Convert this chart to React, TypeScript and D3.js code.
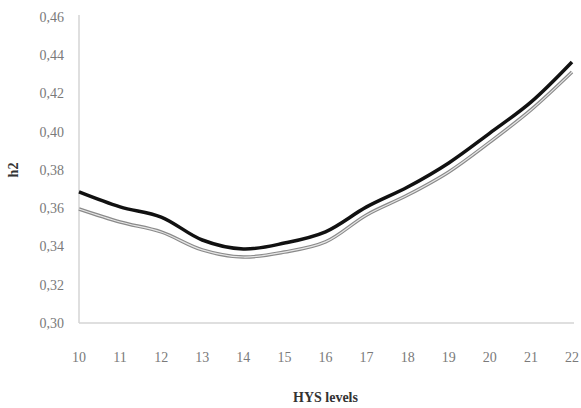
import React, { useEffect, useRef } from "react";
import * as d3 from "d3";

const levels = [10, 11, 12, 13, 14, 15, 16, 17, 18, 19, 20, 21, 22];
const upperSeries = [0.3685, 0.3607, 0.3554, 0.3434, 0.3387, 0.3418, 0.3477, 0.3607, 0.3711, 0.3837, 0.3993, 0.4155, 0.4365];
const lowerSeries = [0.3596, 0.3528, 0.3476, 0.3382, 0.3345, 0.3371, 0.3424, 0.3565, 0.3669, 0.379, 0.3946, 0.4114, 0.4312];
const yTicks = [0.3, 0.32, 0.34, 0.36, 0.38, 0.4, 0.42, 0.44, 0.46];

const W = 581;
const H = 408;

export default function App() {
  const ref = useRef<SVGSVGElement>(null);

  useEffect(() => {
    const svg = d3.select(ref.current);
    svg.selectAll("*").remove();

    const left = 79, right = 572, top = 17, bottom = 323;

    const x = d3.scaleLinear().domain([10, 22]).range([left, right]);
    const y = d3.scaleLinear().domain([0.3, 0.46]).range([bottom, top]);

    // axes lines
    svg.append("line")
      .attr("x1", left).attr("x2", left)
      .attr("y1", top - 2).attr("y2", bottom)
      .attr("stroke", "#d4d4d4").attr("stroke-width", 1.5);
    svg.append("line")
      .attr("x1", left).attr("x2", right + 2)
      .attr("y1", bottom).attr("y2", bottom)
      .attr("stroke", "#d4d4d4").attr("stroke-width", 1.5);

    const fmt = (v: number) => v.toFixed(2).replace(".", ",");

    svg.append("g")
      .selectAll("text")
      .data(yTicks)
      .enter()
      .append("text")
      .attr("x", 64)
      .attr("y", d => y(d))
      .attr("dy", "0.35em")
      .attr("text-anchor", "end")
      .attr("font-family", "Liberation Serif")
      .attr("font-size", 14)
      .attr("fill", "#7a7a7a")
      .text(d => fmt(d));

    svg.append("g")
      .selectAll("text")
      .data(levels)
      .enter()
      .append("text")
      .attr("x", d => x(d))
      .attr("y", 357)
      .attr("dy", "0.35em")
      .attr("text-anchor", "middle")
      .attr("font-family", "Liberation Serif")
      .attr("font-size", 14)
      .attr("fill", "#7a7a7a")
      .text(d => String(d));

    svg.append("text")
      .attr("x", (left + right) / 2)
      .attr("y", 397)
      .attr("dy", "0.35em")
      .attr("text-anchor", "middle")
      .attr("font-family", "Liberation Serif")
      .attr("font-weight", "bold")
      .attr("font-size", 14)
      .attr("fill", "#333")
      .text("HYS levels");

    svg.append("text")
      .attr("transform", "translate(13," + (top + bottom) / 2 + ") rotate(-90)")
      .attr("dy", "0.35em")
      .attr("text-anchor", "middle")
      .attr("font-family", "Liberation Serif")
      .attr("font-weight", "bold")
      .attr("font-size", 14)
      .attr("fill", "#333")
      .text("h2");

    const line = d3.line<number>()
      .x((d, i) => x(levels[i]))
      .y(d => y(d))
      .curve(d3.curveCatmullRom);

    svg.append("path")
      .attr("d", line(lowerSeries))
      .attr("fill", "none")
      .attr("stroke", "#8a8a8a")
      .attr("stroke-width", 3.5);
    svg.append("path")
      .attr("d", line(lowerSeries))
      .attr("fill", "none")
      .attr("stroke", "#e6e6e6")
      .attr("stroke-width", 1.2);

    svg.append("path")
      .attr("d", line(upperSeries))
      .attr("fill", "none")
      .attr("stroke", "#111")
      .attr("stroke-width", 3.5);
  }, []);

  return (
    <svg ref={ref} width={W} height={H}
      style={{ position: "absolute", left: 0, top: 0, background: "#fff" }} />
  );
}
